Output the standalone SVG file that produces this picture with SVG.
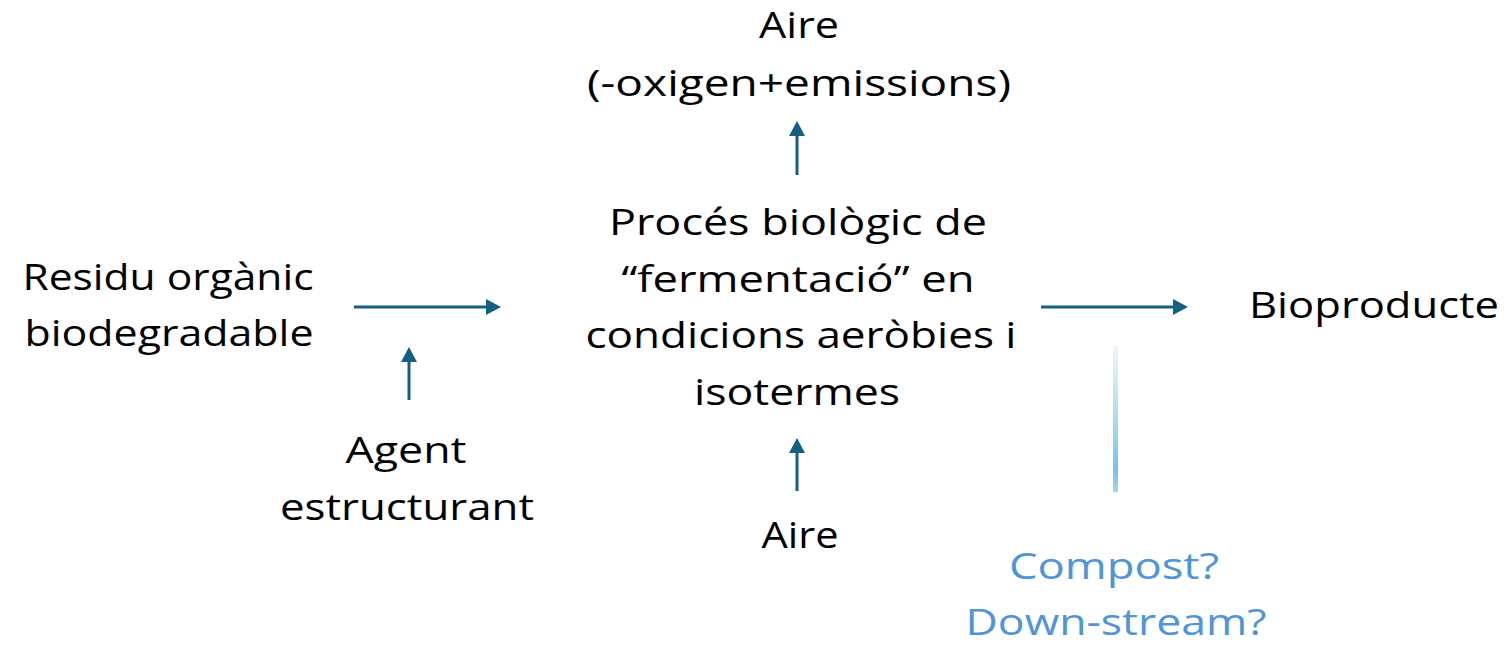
<svg xmlns="http://www.w3.org/2000/svg" width="1511" height="646" viewBox="0 0 1511 646">
  <style>
    text { font-family: "Open Sans", "Liberation Sans", sans-serif; font-size: 37px; fill: #000000; text-anchor: middle; }
    text.blue { fill: #4e95d9; }
    .arrow { stroke: #156082; stroke-width: 3; fill: none; marker-end: url(#head); }
  </style>
  <defs>
    <marker id="head" viewBox="0 0 15 16" refX="1" refY="8" markerWidth="15" markerHeight="16" markerUnits="userSpaceOnUse" orient="auto">
      <path d="M0,0 L15,8 L0,16 Z" fill="#156082"/>
    </marker>
    <linearGradient id="fade" x1="0" y1="0" x2="0" y2="1">
      <stop offset="0" stop-color="#eef6fc"/>
      <stop offset="0.5" stop-color="#acdaf1"/>
      <stop offset="0.85" stop-color="#79c2e8"/>
      <stop offset="1" stop-color="#a2d4ef"/>
    </linearGradient>
  </defs>

  <g id="connectors">
    <line class="arrow" x1="797" y1="175" x2="797" y2="135"/>
    <line class="arrow" x1="354" y1="307" x2="487" y2="307"/>
    <line class="arrow" x1="409" y1="400" x2="409" y2="361"/>
    <line class="arrow" x1="1041" y1="307" x2="1174" y2="307"/>
    <line class="arrow" x1="797" y1="491" x2="797" y2="452"/>
    <rect x="1113" y="346" width="5" height="146" fill="url(#fade)"/>
  </g>

  <g id="aire-out">
    <text x="799" y="38" textLength="80" lengthAdjust="spacingAndGlyphs">Aire</text>
    <text x="799" y="96" textLength="424" lengthAdjust="spacingAndGlyphs">(-oxigen+emissions)</text>
  </g>

  <g id="proces">
    <text x="798" y="235" textLength="378" lengthAdjust="spacingAndGlyphs">Procés biològic de</text>
    <text x="798" y="292" textLength="353" lengthAdjust="spacingAndGlyphs">“fermentació” en</text>
    <text x="801" y="348" textLength="431" lengthAdjust="spacingAndGlyphs">condicions aeròbies i</text>
    <text x="797" y="405" textLength="206" lengthAdjust="spacingAndGlyphs">isotermes</text>
  </g>

  <g id="residu">
    <text x="168" y="290" textLength="291" lengthAdjust="spacingAndGlyphs">Residu orgànic</text>
    <text x="169" y="346" textLength="289" lengthAdjust="spacingAndGlyphs">biodegradable</text>
  </g>

  <g id="agent">
    <text x="406" y="463" textLength="121" lengthAdjust="spacingAndGlyphs">Agent</text>
    <text x="407" y="520" textLength="254" lengthAdjust="spacingAndGlyphs">estructurant</text>
  </g>

  <g id="aire-in">
    <text x="800" y="548" textLength="77" lengthAdjust="spacingAndGlyphs">Aire</text>
  </g>

  <g id="bioproducte">
    <text x="1374" y="318" textLength="250" lengthAdjust="spacingAndGlyphs">Bioproducte</text>
  </g>

  <g id="downstream">
    <text class="blue" x="1114" y="579" textLength="210" lengthAdjust="spacingAndGlyphs">Compost?</text>
    <text class="blue" x="1116" y="635" textLength="301" lengthAdjust="spacingAndGlyphs">Down-stream?</text>
  </g>
</svg>
